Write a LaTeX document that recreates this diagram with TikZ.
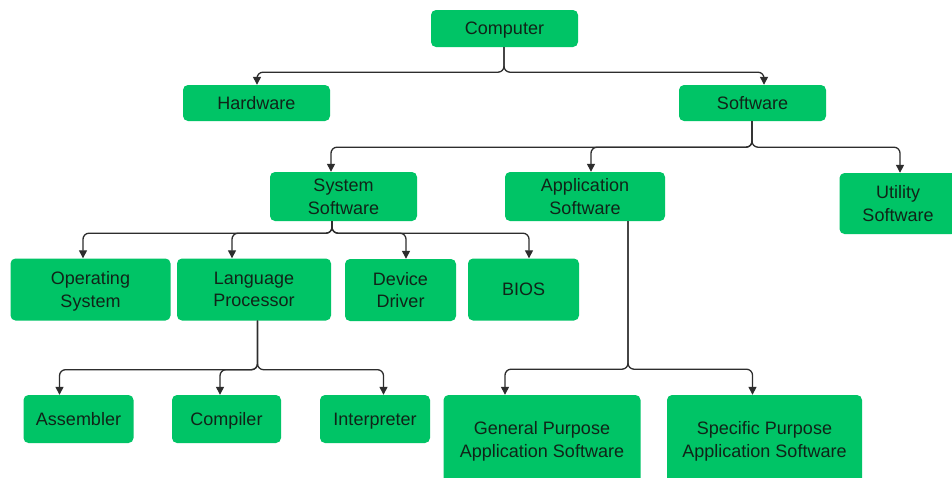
\documentclass[tikz,border=0pt]{standalone}
\usepackage{fontspec}
\setmainfont{Liberation Sans}
\usetikzlibrary{arrows.meta}
\definecolor{boxgreen}{RGB}{0,196,102}
\definecolor{boxtext}{RGB}{16,36,24}
\definecolor{wire}{RGB}{45,45,45}
\tikzset{
  box/.style={fill=boxgreen, rounded corners=5pt, inner sep=0pt, align=center,
    text depth=0pt, text=boxtext, font=\fontsize{18}{22.5}\selectfont},
  edge/.style={draw=wire, line width=1.3pt, rounded corners=6pt,
    -{Triangle[length=8pt,width=8pt]}}
}
\begin{document}
\begin{tikzpicture}[x=1pt, y=-1pt]
  \clip (0,0) rectangle (952,477);
  \fill[white] (0,0) rectangle (952,477);

  % level 0 and 1
  \node[box, minimum width=147pt, minimum height=37pt] (computer) at (504.5,28.5) {Computer};
  \node[box, minimum width=147pt, minimum height=36pt] (hardware) at (256.5,103) {Hardware};
  \node[box, minimum width=147pt, minimum height=36pt] (software) at (752.5,103) {Software};

  % software kinds
  \node[box, minimum width=147pt, minimum height=49pt] (system) at (343.5,196.5) {System\\Software};
  \node[box, minimum width=160pt, minimum height=49pt] (application) at (585,196.5) {Application\\Software};
  \node[box, minimum width=117pt, minimum height=61pt] (utility) at (898,203.5) {Utility\\Software};

  % system software parts
  \node[box, minimum width=160pt, minimum height=62pt] (os) at (90.5,289.5) {Operating\\System};
  \node[box, minimum width=154pt, minimum height=62pt] (langproc) at (254,289.5) {Language\\Processor};
  \node[box, minimum width=111pt, minimum height=62pt] (driver) at (400.5,290) {Device\\Driver};
  \node[box, minimum width=111pt, minimum height=62pt] (bios) at (523.5,289.5) {BIOS};

  % language processors
  \node[box, minimum width=110pt, minimum height=48pt] (assembler) at (78.5,419) {Assembler};
  \node[box, minimum width=109pt, minimum height=48pt] (compiler) at (226.5,419) {Compiler};
  \node[box, minimum width=110pt, minimum height=48pt] (interpreter) at (375,419) {Interpreter};

  % application software kinds
  \node[box, minimum width=197pt, minimum height=89pt] (general) at (542,439.5) {General Purpose\\Application Software};
  \node[box, minimum width=195pt, minimum height=89pt] (specific) at (764.5,439.5) {Specific Purpose\\Application Software};

  % connectors
  \draw[edge] ([xshift=-0.5pt]computer.south) -- ++(0,25) -| ([xshift=0.5pt]hardware.north);
  \draw[edge] ([xshift=-0.5pt]computer.south) -- ++(0,25) -| ([xshift=11.5pt]software.north);

  \draw[edge] ([xshift=-0.5pt]software.south) -- ++(0,26) -| ([xshift=-12.5pt]system.north);
  \draw[edge] ([xshift=-0.5pt]software.south) -- ++(0,26) -| ([xshift=6pt]application.north);
  \draw[edge] ([xshift=-0.5pt]software.south) -- ++(0,26) -| ([xshift=2pt]utility.north);

  \draw[edge] ([xshift=-11.5pt]system.south) -- ++(0,12) -| ([xshift=-7.5pt]os.north);
  \draw[edge] ([xshift=-11.5pt]system.south) -- ++(0,12) -| ([xshift=-22pt]langproc.north);
  \draw[edge] ([xshift=-11.5pt]system.south) -- ++(0,12) -| ([xshift=5.5pt]driver.north);
  \draw[edge] ([xshift=-11.5pt]system.south) -- ++(0,12) -| ([xshift=5.5pt]bios.north);

  \draw[edge] ([xshift=3.5pt]langproc.south) -- ++(0,49) -| ([xshift=-19pt]assembler.north);
  \draw[edge] ([xshift=3.5pt]langproc.south) -- ++(0,49) -| ([xshift=-6.5pt]compiler.north);
  \draw[edge] ([xshift=3.5pt]langproc.south) -- ++(0,49) -| ([xshift=8.5pt]interpreter.north);

  \draw[edge] ([xshift=43pt]application.south) -- ++(0,148) -| ([xshift=-37pt]general.north);
  \draw[edge] ([xshift=43pt]application.south) -- ++(0,148) -| ([xshift=-12pt]specific.north);
\end{tikzpicture}
\end{document}
